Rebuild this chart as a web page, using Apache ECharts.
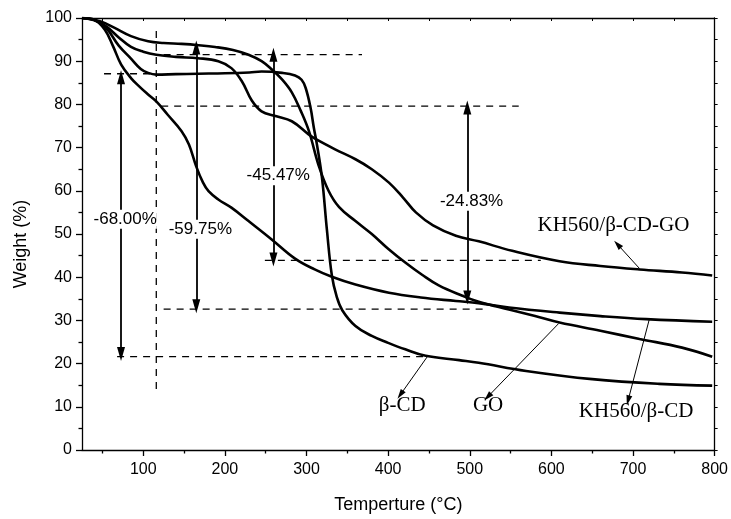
<!DOCTYPE html>
<html>
<head>
<meta charset="utf-8">
<title>TGA</title>
<script src="https://cdn.jsdelivr.net/npm/echarts@6/dist/echarts.min.js"></script>
<style>
  html, body { margin: 0; padding: 0; background: #fff; }
  #chartArea { width: 731px; height: 519px; }
</style>
</head>
<body>
<div id="chartArea"></div>
<script>
// 曲线数据 [温度, 失重%]
const betaCd = [[25,100],[40,99.6],[55,97.6],[70,93.6],[85,90.6],[97,88.2],[106,87.3],[116,86.9],[140,87],[167,87.1],[200,87.2],[230,87.4],[245,87.6],[270,87.3],[286,86.7],[294,85.7],[299,83.8],[305,79.2],[309,74.6],[313,70.5],[319,63],[325,51],[331,40.5],[337,35.5],[344,32.3],[360,28.7],[380,26.4],[400,24.8],[421,23.3],[446,21.8],[487,20.8],[511,20.2],[569,18.3],[650,16.4],[732,15.3],[797,14.9]];
const go = [[25,100],[48,99.2],[65,97.7],[85,95.8],[106,94.6],[125,94.2],[147,94],[168,93.7],[188,93.3],[210,92.6],[229,91.5],[245,90],[258,88],[270,85.8],[282,82.8],[293,78.5],[303,73.8],[315,65.8],[327,60],[340,56.2],[360,53],[380,50],[400,46.6],[421,43.4],[442,40.5],[462,38.1],[491,35.7],[511,34.3],[548,32.5],[580,31],[610,29.5],[660,27.6],[708,25.7],[760,23.7],[797,21.6]];
const kh560Cd = [[25,100],[40,99.6],[53,97.3],[63,93.5],[73,89.2],[85,86.1],[96,84],[106,82.3],[116,80.7],[130,77.6],[147,73.8],[156,70.7],[165,65.6],[173,62],[180,59.9],[192,58],[208,56.1],[229,53],[257,48.8],[286,44.3],[310,41.8],[331,40.1],[360,38.3],[401,36.4],[440,35.3],[483,34.5],[511,34],[548,33],[610,31.8],[660,31],[716,30.3],[797,29.7]];
const kh560CdGo = [[25,100],[40,99.5],[55,98],[70,95.5],[85,93.3],[100,92.2],[116,91.5],[140,91],[167,90.7],[192,90],[208,88.4],[221,85.3],[233,80.9],[245,78.4],[262,77.3],[282,76.1],[303,73],[311,72],[335,69.6],[360,67.3],[380,65],[401,61.9],[418,58.5],[434,55],[455,52],[483,49.6],[511,48.3],[552,46.1],[610,43.7],[660,42.6],[708,41.8],[760,41.1],[797,40.4]];

// 辅助虚线
const dashLines = [
    [[52,87.1],[116,87.1]],
    [[125,91.5],[368,91.5]],
    [[122,79.6],[560,79.6]],
    [[249,43.9],[587,43.9]],
    [[125,32.6],[520,32.6]],
    [[68,21.6],[446,21.6]],
    [[116,97],[116,14.1]]
];

// 失重箭头及标注
const lossArrows = [
    [[72.8,86.3],[72.8,22.2]],
    [[165,93.2],[165,33.3]],
    [[259.5,91.5],[259.5,44.1]],
    [[497,79.3],[497,35.3]]
];
const lossLabels = [[77.9,53.4,'-68.00%'],[170,51.1,'-59.75%'],[265.4,63.5,'-45.47%'],[502.2,57.6,'-24.83%']];

// 曲线名称及指示线
const curveLabels = [[417.2,10.2,'β-CD'],[522.5,10.2,'GO'],[703.8,8.9,'KH560/β-CD'],[676,52,'KH560/β-CD-GO']];
const pointers = [
    [[448,21.6],[415,12.8]],
    [[609,29.3],[522,12.3]],
    [[720,30.3],[694,11.5]],
    [[708,42],[681,47.6]]
];

// 刻度
const xMajorTicks = [100,200,300,400,500,600,700,800];
const xMinorTicks = [50,150,250,350,450,550,650,750];
const xTopTicks = [50,100,150,200,250,300,350,400,450,500,550,600,650,700,750,800];

let chart = null;

document.addEventListener('DOMContentLoaded', function() {
    chart = echarts.init(document.getElementById('chartArea'));
    chart.setOption(buildOption());
});

function curveSeries(name, data) {
    return {
        name: name,
        type: 'line',
        data: data,
        smooth: 0.4,
        showSymbol: false,
        lineStyle: { color: '#000', width: 2.6 },
        z: 3
    };
}

function textSeries(data, font, size, bg) {
    return {
        type: 'scatter',
        data: data,
        symbolSize: 1,
        itemStyle: { color: 'rgba(0,0,0,0)', opacity: 1 },
        label: {
            show: true,
            position: 'inside',
            formatter: p => p.data[2],
            color: '#000',
            opacity: 1,
            fontFamily: font,
            fontSize: size,
            backgroundColor: bg,
            padding: [1, 0]
        },
        z: 6
    };
}

function buildOption() {
    const series = [
        curveSeries('β-CD', betaCd),
        curveSeries('GO', go),
        curveSeries('KH560/β-CD', kh560Cd),
        curveSeries('KH560/β-CD-GO', kh560CdGo)
    ];

    dashLines.forEach(seg => {
        series.push({
            type: 'line',
            data: seg,
            showSymbol: false,
            lineStyle: { color: '#000', width: 1.3, type: [7, 6] },
            z: 2
        });
    });

    // 双向箭头
    series.push({
        type: 'line',
        data: [],
        markLine: {
            silent: true,
            animation: false,
            symbol: ['triangle', 'triangle'],
            symbolSize: [8, 14],
            label: { show: false },
            lineStyle: { color: '#000', width: 1.8, type: 'solid' },
            data: lossArrows.map(a => [{ coord: a[0] }, { coord: a[1] }])
        },
        z: 4
    });

    // 指示线
    series.push({
        type: 'line',
        data: [],
        markLine: {
            silent: true,
            animation: false,
            symbol: ['none', 'triangle'],
            symbolSize: [6, 10],
            label: { show: false },
            lineStyle: { color: '#000', width: 1, type: 'solid' },
            data: pointers.map(a => [{ coord: a[0] }, { coord: a[1] }])
        },
        z: 4
    });

    series.push(textSeries(lossLabels, 'Liberation Sans', 17, '#fff'));
    series.push(textSeries(curveLabels, 'Liberation Serif', 21, 'transparent'));

    const axisLine = { show: true, lineStyle: { color: '#000', width: 1.3 } };

    return {
        animation: false,
        backgroundColor: '#fff',
        grid: { left: 82, right: 16, top: 18, bottom: 68 },
        xAxis: [
            {
                type: 'value', position: 'bottom', min: 25, max: 800,
                name: 'Temperture (°C)', nameLocation: 'middle', nameGap: 46,
                nameTextStyle: { fontFamily: 'Liberation Sans', fontSize: 18, color: '#000' },
                axisLine: axisLine,
                axisTick: { show: true, customValues: xMajorTicks, length: 6, lineStyle: { color: '#000', width: 1.3 } },
                axisLabel: { customValues: xMajorTicks, fontFamily: 'Liberation Sans', fontSize: 16, color: '#000', margin: 12 },
                splitLine: { show: false }
            },
            {
                type: 'value', position: 'bottom', min: 25, max: 800,
                axisLine: { show: false },
                axisTick: { show: true, customValues: xMinorTicks, length: 3.5, lineStyle: { color: '#000', width: 1.3 } },
                axisLabel: { show: false },
                splitLine: { show: false }
            },
            {
                type: 'value', position: 'top', min: 25, max: 800,
                axisLine: axisLine,
                axisTick: { show: true, inside: true, customValues: xTopTicks, length: 3, lineStyle: { color: '#000', width: 1 } },
                axisLabel: { show: false },
                splitLine: { show: false }
            }
        ],
        yAxis: [
            {
                type: 'value', position: 'left', min: 0, max: 100, interval: 10,
                name: 'Weight (%)', nameLocation: 'middle', nameGap: 52, nameRotate: 90,
                nameTextStyle: { fontFamily: 'Liberation Sans', fontSize: 18, color: '#000', padding: [0, 20, 0, 0] },
                axisLine: axisLine,
                axisTick: { show: true, length: 6, lineStyle: { color: '#000', width: 1.3 } },
                minorTick: { show: true, splitNumber: 2, length: 3.5, lineStyle: { color: '#000', width: 1.3 } },
                axisLabel: { fontFamily: 'Liberation Sans', fontSize: 16, color: '#000', margin: 10 },
                splitLine: { show: false }
            },
            {
                type: 'value', position: 'right', min: 0, max: 100, interval: 10,
                axisLine: axisLine,
                axisTick: { show: true, length: 3, lineStyle: { color: '#000', width: 1 } },
                minorTick: { show: true, splitNumber: 2, length: 3, lineStyle: { color: '#000', width: 1 } },
                axisLabel: { show: false },
                splitLine: { show: false }
            }
        ],
        series: series
    };
}
</script>
</body>
</html>
